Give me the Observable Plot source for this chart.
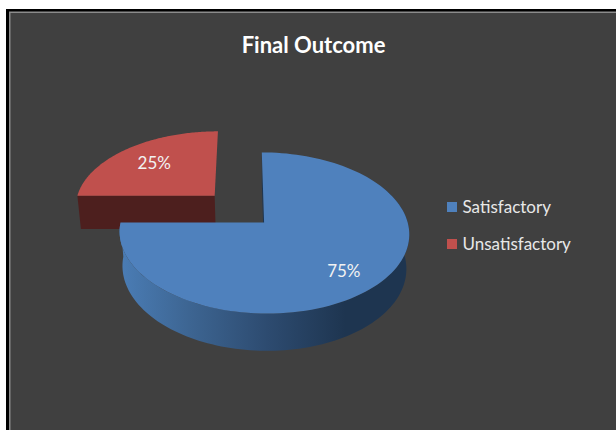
<!DOCTYPE html>
<html>
<head>
<meta charset="utf-8">
<script src="https://cdn.jsdelivr.net/npm/d3@7"></script>
<script src="https://cdn.jsdelivr.net/npm/@observablehq/plot@0.6"></script>
<style>
  html, body { margin: 0; padding: 0; background: #fff; overflow: hidden; }
  svg { display: block; }
</style>
</head>
<body>
<div id="chart"></div>
<script>
// Chart content
const titleText = "Final Outcome";
const categories = ["Satisfactory", "Unsatisfactory"];
const shares = [75, 25];
const topColors = ["#4f81bd", "#c0504d"];
const explosion = [0, 0.5];

// Perspective of the pie's disc: unit-disc coordinates (u, v, level) to chart units.
const view = {cx: 263.6, cy: 222, rx: 143.6, ry: 79.2, shear: 2.6, tilt: 0.13, drop: 35, shrink: 0.02};
function project(u, v, level = 0) {
  const w = 1 - view.tilt * v + view.shrink * level;
  return {
    x: view.cx + (view.rx * u + view.shear * v) / w,
    y: view.cy + (view.ry * v + view.drop * level) / w
  };
}

// Slices run clockwise from twelve o'clock; angles come from the shares.
const total = d3.sum(shares);
let running = 0;
const slices = categories.map((name, i) => {
  const a0 = running / total * 2 * Math.PI;
  running += shares[i];
  const a1 = running / total * 2 * Math.PI;
  const mid = (a0 + a1) / 2;
  return {
    name, a0, a1, mid,
    share: shares[i],
    color: topColors[i],
    ou: Math.sin(mid) * explosion[i],
    ov: -Math.cos(mid) * explosion[i]
  };
});

const rimPoint = (s, a, level = 0) => project(s.ou + Math.sin(a), s.ov - Math.cos(a), level);
const rim = (s, from, to, level = 0) =>
  d3.range(0, 121).map((k) => rimPoint(s, from + (to - from) * k / 120, level));
const hub = (s, level = 0) => project(s.ou, s.ov, level);

const sliceTop = (s) => [hub(s), ...rim(s, s.a0, s.a1)];

const [blue, red] = slices;

// Outer wall of the large slice and the two cut faces that show.
const blueWall = [...rim(blue, Math.PI / 3, blue.a1), ...rim(blue, Math.PI / 3, blue.a1, 1).reverse()];
const blueCut = [hub(blue), rimPoint(blue, blue.a0), rimPoint(blue, blue.a0, 1), hub(blue, 1)];
const redCut = [hub(red), rimPoint(red, red.a0), rimPoint(red, red.a0, 1), hub(red, 1)];

// Percentage labels sit along each slice's bisector, with a small optical offset.
const labelReach = 0.72;
const labelShiftX = [0, 3.5];
const labelShiftY = [6, 2];
const labels = slices.map((s, i) => {
  const p = project(s.ou + labelReach * Math.sin(s.mid), s.ov - labelReach * Math.cos(s.mid));
  return {x: p.x + labelShiftX[i], y: p.y + labelShiftY[i], text: `${s.share}%`};
});

// Legend rows
const legendRows = categories.map((name, i) => ({name, color: topColors[i], row: 207 + i * 37}));

const wallGradient = () => {
  const defs = d3.create("svg:defs");
  const g = defs.append("linearGradient")
    .attr("id", "blue-wall")
    .attr("gradientUnits", "userSpaceOnUse")
    .attr("x1", 122).attr("x2", 345).attr("y1", 0).attr("y2", 0);
  [[0, "#4a7cb4"], [0.3, "#3d6592"], [0.65, "#2d4b70"], [1, "#1e3550"]].forEach(([o, c]) =>
    g.append("stop").attr("offset", o).attr("stop-color", c));
  return defs.node();
};

const polygon = (points, fill) =>
  Plot.line(points, {x: "x", y: "y", fill, stroke: "none", curve: "linear-closed"});

const box = (x1, y1, fill) =>
  Plot.rect([{x1, y1, x2: 616, y2: 430}], {x1: "x1", y1: "y1", x2: "x2", y2: "y2", fill});

const chart = Plot.plot({
  width: 616,
  height: 430,
  margin: 0,
  x: {domain: [0, 616], range: [0, 616], axis: null},
  y: {domain: [0, 430], range: [0, 430], axis: null},
  style: {fontFamily: "Lato, Carlito, sans-serif", background: "#fff"},
  marks: [
    // Chart frame: black outline, thin grey inner line, dark fill
    box(6, 9, "#000000"),
    box(9, 11.5, "#8c8c8c"),
    box(10.5, 13, "#404040"),
    wallGradient,

    // Exploded slice
    polygon(redCut, "#4d1f1e"),
    polygon(sliceTop(red), red.color),

    // Large slice
    polygon(blueCut, "#1d3653"),
    polygon(blueWall, "url(#blue-wall)"),
    polygon(sliceTop(blue), blue.color),

    // Value labels
    Plot.text(labels, {
      x: "x",
      y: "y",
      text: "text",
      fill: "#f2f2f2",
      fontSize: 17
    }),

    // Title
    Plot.text([titleText], {
      x: () => 313,
      y: () => 45,
      text: (d) => d,
      fill: "#ffffff",
      fontSize: 22,
      fontWeight: 700
    }),

    // Legend
    Plot.rect(legendRows, {
      x1: () => 447,
      x2: () => 457,
      y1: (d) => d.row - 5,
      y2: (d) => d.row + 5,
      fill: "color"
    }),
    Plot.text(legendRows, {
      x: () => 462,
      y: "row",
      text: "name",
      textAnchor: "start",
      fill: "#e8e8e8",
      fontSize: 17
    })
  ]
});

document.getElementById("chart").append(chart);
</script>
</body>
</html>
